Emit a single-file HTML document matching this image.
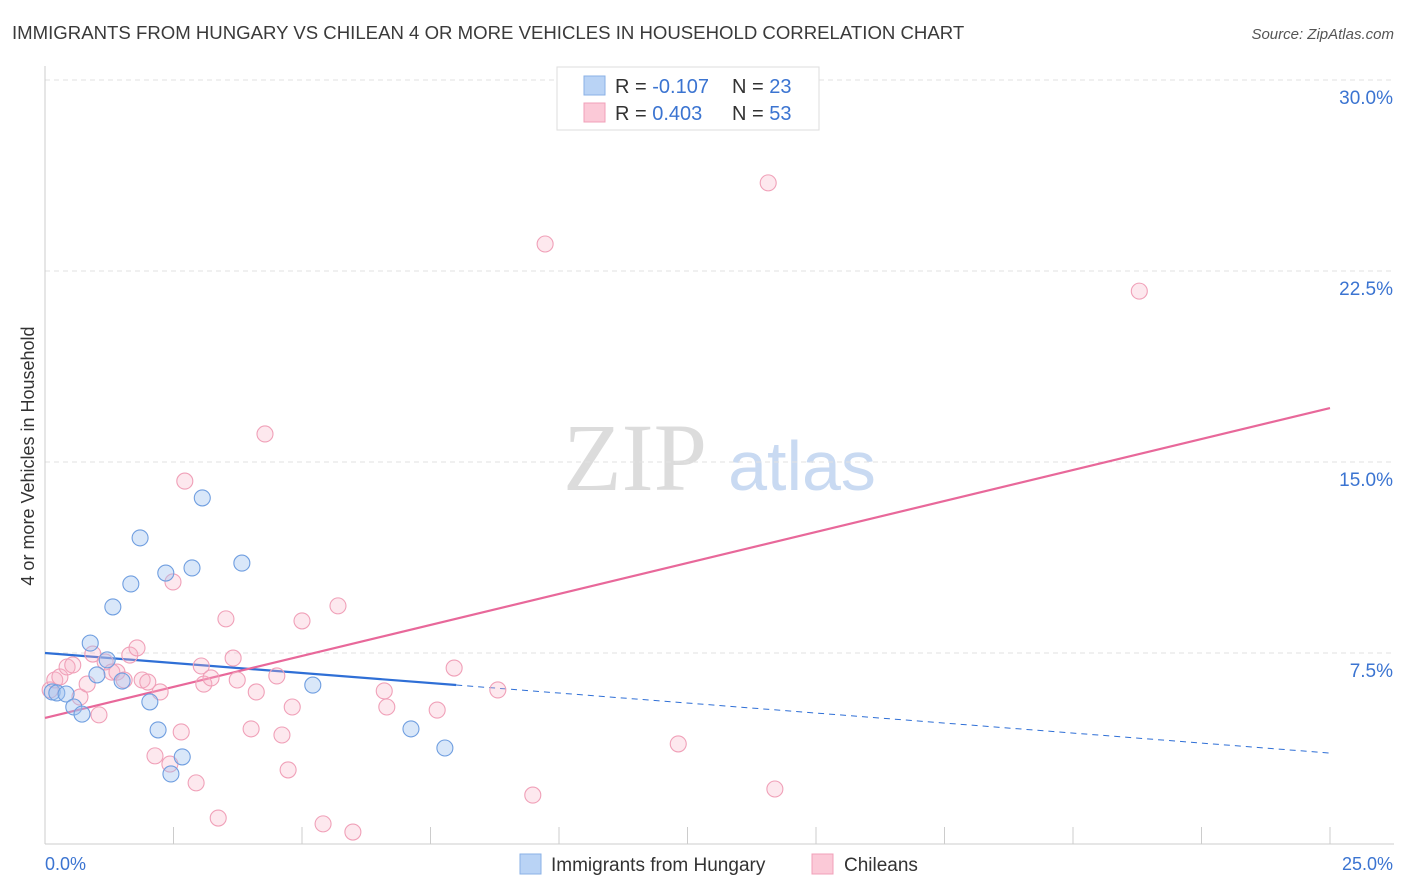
<!DOCTYPE html>
<html><head><meta charset="utf-8">
<style>
body{margin:0;background:#fff;font-family:"Liberation Sans",sans-serif;}
svg{display:block}
</style></head>
<body>
<svg id="chart" width="1406" height="892" viewBox="0 0 1406 892" xmlns="http://www.w3.org/2000/svg">
<text x="12" y="39" font-size="18.6" fill="#3a3a3a">IMMIGRANTS FROM HUNGARY VS CHILEAN 4 OR MORE VEHICLES IN HOUSEHOLD CORRELATION CHART</text>
<text x="1394" y="39" font-size="15" fill="#555" text-anchor="end" font-style="italic">Source: ZipAtlas.com</text>
<text transform="translate(34,456) rotate(-90)" font-size="18" fill="#333" text-anchor="middle">4 or more Vehicles in Household</text>
<g>
<text x="635" y="490" font-size="96" fill="#dcdcdc" font-family="Liberation Serif,serif" text-anchor="middle">ZIP</text>
<text x="802" y="490" font-size="70" fill="#c9daf2" text-anchor="middle">atlas</text>
</g>
<g id="grid"></g>
<g id="axes"></g>
<g id="lines"></g>
<g id="points"></g>
<g>
<rect x="557" y="67" width="262" height="63" fill="#fff" stroke="#ddd"/>
<rect x="584" y="76" width="21" height="19" fill="#b9d3f5" stroke="#8ab0e6"/>
<rect x="584" y="103" width="21" height="19" fill="#fbc9d7" stroke="#f0a0b8"/>
<text x="615" y="93" font-size="20" fill="#333">R = <tspan fill="#3b74d1">-0.107</tspan></text>
<text x="732" y="93" font-size="20" fill="#333">N = <tspan fill="#3b74d1">23</tspan></text>
<text x="615" y="120" font-size="20" fill="#333">R = <tspan fill="#3b74d1"> 0.403</tspan></text>
<text x="732" y="120" font-size="20" fill="#333">N = <tspan fill="#3b74d1">53</tspan></text>
</g>
<g>
<rect x="520" y="854" width="21" height="20" fill="#b9d3f5" stroke="#8ab0e6"/>
<text x="551" y="871" font-size="19" fill="#333">Immigrants from Hungary</text>
<rect x="812" y="854" width="21" height="20" fill="#fbc9d7" stroke="#f0a0b8"/>
<text x="844" y="871" font-size="19" fill="#333">Chileans</text>
</g>
</svg>
<script>
const yTicks=[7.5,15,22.5,30];
const yTickLabels=["7.5%","15.0%","22.5%","30.0%"];
const xTicks=[0,2.5,5,7.5,10,12.5,15,17.5,20,22.5,25];
const xEndLabels=["0.0%","25.0%"];
const hungaryX=[0.14,0.23,0.41,0.56,0.72,0.88,1.01,1.21,1.32,1.50,1.67,1.85,2.04,2.20,2.35,2.45,2.67,2.86,3.06,3.83,5.21,7.12,7.78];
const hungaryY=[5.97,5.93,5.89,5.38,5.10,7.89,6.64,7.23,9.31,6.40,10.21,12.02,5.58,4.48,10.64,2.75,3.42,10.84,13.59,11.03,6.24,4.52,3.77];
const chileX=[0.10,0.19,0.29,0.43,0.54,0.68,0.82,0.93,1.05,1.17,1.30,1.40,1.54,1.65,1.79,1.89,2.00,2.14,2.24,2.43,2.49,2.65,2.72,2.94,3.04,3.09,3.23,3.37,3.52,3.66,3.74,4.01,4.11,4.28,4.51,4.61,4.73,4.81,5.00,5.41,5.70,5.99,6.60,6.65,7.63,7.96,8.81,9.49,9.73,12.32,14.07,14.20,21.29];
const chileY=[6.05,6.44,6.56,6.95,7.03,5.77,6.28,7.46,5.07,7.15,6.75,6.75,6.44,7.42,7.70,6.44,6.36,3.46,5.97,3.14,10.29,4.40,14.25,2.40,6.99,6.28,6.52,1.02,8.84,7.30,6.44,4.52,5.97,16.10,6.60,4.28,2.91,5.38,8.76,0.79,9.35,0.47,6.01,5.38,5.26,6.91,6.05,1.92,23.56,3.93,25.96,2.16,21.71];
const hungaryTrend=[7.5,3.57];
const chileTrend=[4.95,17.12];
const hungarySolidEnd=8.0;

const X0=45,X1=1330,Y0=844,Y30=80;
const sx=v=>X0+v/25*(X1-X0);
const sy=v=>Y0-v/30*(Y0-Y30);
const NS="http://www.w3.org/2000/svg";
function mk(tag,attrs,parent){const e=document.createElementNS(NS,tag);for(const k in attrs)e.setAttribute(k,attrs[k]);parent.appendChild(e);return e;}
const grid=document.getElementById('grid'),axes=document.getElementById('axes'),lines=document.getElementById('lines'),pts=document.getElementById('points');
yTicks.forEach((t,i)=>{
 const l=mk('line',{x1:X0,x2:1394,y1:sy(t),y2:sy(t),stroke:'#e2e2e2','stroke-dasharray':'5,4'},grid);
 
 
 const tx=mk('text',{x:1393,y:sy(t)+24,'font-size':19,fill:'#3b74d1','text-anchor':'end'},axes);
 tx.textContent=yTickLabels[i];
 
 
});
const ya=mk('line',{x1:X0,x2:X0,y1:66,y2:Y0,stroke:'#ccc'},axes);


const xa=mk('line',{x1:X0,x2:1394,y1:Y0,y2:Y0,stroke:'#ccc'},axes);


xTicks.forEach(t=>{
 const l=mk('line',{x1:sx(t),x2:sx(t),y1:Y0,y2:Y0-17,stroke:'#ccc'},axes);
 
 
});
const xl0=mk('text',{x:45,y:870,'font-size':18,fill:'#3b74d1'},axes);xl0.textContent=xEndLabels[0];


const xl1=mk('text',{x:1393,y:870,'font-size':18,fill:'#3b74d1','text-anchor':'end'},axes);xl1.textContent=xEndLabels[1];



chileX.forEach((x,i)=>{
 const c=mk('circle',{cx:sx(x),cy:sy(chileY[i]),r:8,fill:'rgba(248,180,200,0.3)',stroke:'#f0a0b8','stroke-width':1.1},pts);
 
 
});
hungaryX.forEach((x,i)=>{
 const c=mk('circle',{cx:sx(x),cy:sy(hungaryY[i]),r:8,fill:'rgba(160,195,240,0.4)',stroke:'#6f9ee0','stroke-width':1.1},pts);
 
 
});
const hy=x=>hungaryTrend[0]+(hungaryTrend[1]-hungaryTrend[0])*x/25;
const hs=mk('line',{x1:sx(0),y1:sy(hy(0)),x2:sx(hungarySolidEnd),y2:sy(hy(hungarySolidEnd)),stroke:'#2f6fd6','stroke-width':2.2},lines);


const hd=mk('line',{x1:sx(hungarySolidEnd),y1:sy(hy(hungarySolidEnd)),x2:sx(25),y2:sy(hy(25)),stroke:'#2f6fd6','stroke-width':1,'stroke-dasharray':'6,5'},lines);


const cl=mk('line',{x1:sx(0),y1:sy(chileTrend[0]),x2:sx(25),y2:sy(chileTrend[1]),stroke:'#e8689a','stroke-width':2.2},lines);


</script>
</body></html>
